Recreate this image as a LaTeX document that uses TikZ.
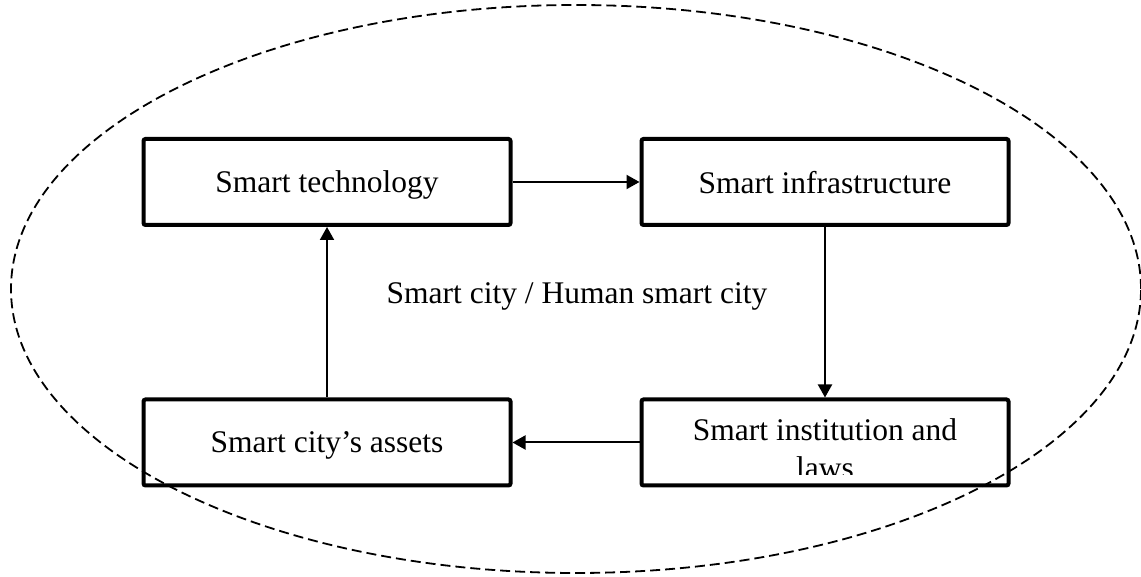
\documentclass[tikz,border=0pt]{standalone}
\usepackage{fontspec}
\setmainfont{Liberation Serif}
\usetikzlibrary{arrows.meta,positioning,calc}

\begin{document}
\begin{tikzpicture}[x=0.5pt,y=0.5pt,font=\fontsize{15.75}{19}\selectfont,
  cell/.style={draw,line width=2pt,rounded corners=1pt,
    minimum width=183.5pt,minimum height=43pt,inner sep=0pt,text depth=0pt},
  link/.style={-{Triangle[length=6.5pt,width=7pt]},line width=1pt}]
  \useasboundingbox (0,0) rectangle (1141,577);

  % city boundary
  \draw[dash pattern=on 5pt off 2.5pt,line width=0.9pt]
    (576,288) ellipse [x radius=282.5pt,y radius=142pt];

  \node[cell] (tech) at (327,395) {Smart technology};
  \node[cell] (infra) at (825,395) {Smart infrastructure};
  \node[cell] (assets) at (327,134.5) {Smart city’s assets};
  \node[cell] (inst) at (825,134.5) {};

  % second line runs past the text frame
  \begin{scope}
    \clip (643,102) rectangle (1008,177);
    \node[anchor=base,inner sep=0pt] (insttext) at (825,136)
      {\parbox[t]{184pt}{\centering Smart institution and\\laws}};
  \end{scope}

  \node[anchor=base] (city) at (577,273) {Smart city / Human smart city};

  \draw[link] (tech.east) -- (infra.west);
  \draw[link] (infra.south) -- (inst.north);
  \draw[link] (inst.west) -- (assets.east);
  \draw[link] (assets.north) -- (tech.south);
\end{tikzpicture}
\end{document}
